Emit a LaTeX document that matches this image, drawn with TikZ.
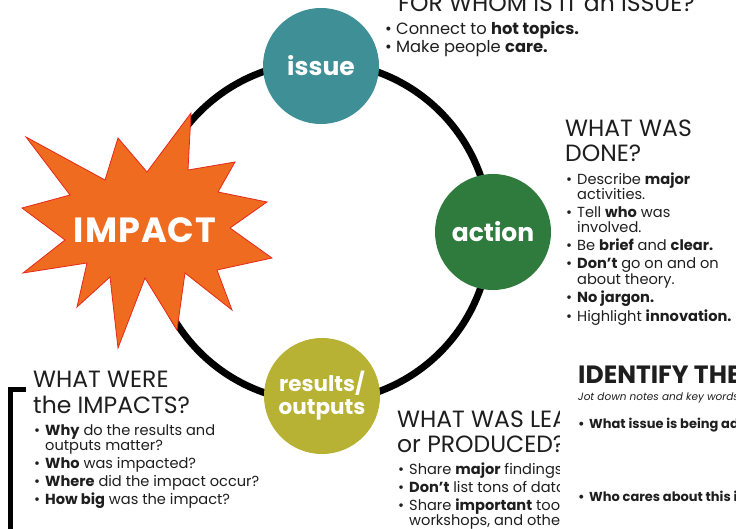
\documentclass[tikz,border=0pt]{standalone}
\usepackage{fontspec}
\setmainfont{Poppins}
\definecolor{issuecol}{HTML}{3F8F96}
\definecolor{actioncol}{HTML}{2F7B3D}
\definecolor{resultcol}{HTML}{B7B233}
\definecolor{burstfill}{HTML}{EF6B1F}
\definecolor{burstline}{HTML}{E5291B}
\definecolor{txt}{HTML}{1E1E1E}
\tikzset{
  stage/.style={circle, minimum size=116pt, inner sep=0pt, text=white,
    font=\fontsize{25}{22}\selectfont\bfseries, align=center},
  heading/.style={anchor=base west, inner sep=0pt, text=txt,
    font=\fontsize{23.5}{26}\selectfont},
  body/.style={anchor=base west, inner sep=0pt, text=txt,
    font=\fontsize{14.6}{15}\selectfont},
  topbody/.style={body, font=\fontsize{16.3}{17}\selectfont},
  ring/.style={line width=7pt, black},
  bracket/.style={line width=5pt, black}
}
\newcommand{\bul}{\makebox[11pt][l]{\textbullet}}
\begin{document}
\begin{tikzpicture}[x=1pt,y=-1pt]
\useasboundingbox (0,0) rectangle (736,529);
% ring
\coordinate (ringc) at (320,232);
\draw[ring] (ringc) circle[radius=170];
% starburst
\filldraw[fill=burstfill, draw=burstline, line width=0.8pt]
  (26,137) -- (105,180) -- (118,138) -- (147,172) -- (191,113) -- (188,170)
  -- (235,162) -- (218,192) -- (267,202) -- (230,228) -- (272,258) -- (217,270)
  -- (232,310) -- (185,273) -- (177,330) -- (145,278) -- (118,348) -- (110,277)
  -- (77,307) -- (87,263) -- (23,273) -- (65,240) -- (22,208) -- (70,195) -- cycle;
\node[text=white, font=\fontsize{35}{35}\selectfont\bfseries] (impact) at (145,230) {I\kern1ptM\kern1ptP\kern1ptA\kern1ptC\kern1ptT};
% stage circles
\node[stage, fill=issuecol] (issue) at (321,66) {issue};
\node[stage, fill=actioncol] (action) at (493,232) {action};
\node[stage, fill=resultcol, font=\fontsize{21.5}{23}\selectfont\bfseries] (results) at (322,396) {results/\\outputs};
% top text
\node[heading] (h1) at (398,12) {FOR WHOM IS IT an ISSUE?};
\node[topbody] (t1) at (385,35) {\bul Connect to \textbf{hot topics.}};
\node[topbody] (t2) at (385,53) {\bul Make people \textbf{care.}};
% action text
\node[heading] (h2a) at (565,137) {WHAT WAS};
\node[heading] (h2b) at (565,162) {DONE?};
\node[body] (a1) at (566,185) {\bul Describe \textbf{major}};
\node[body] (a1b) at (577,200) {activities.};
\node[body] (a2) at (566,218) {\bul Tell \textbf{who} was};
\node[body] (a2b) at (577,233) {involved.};
\node[body] (a3) at (566,251) {\bul Be \textbf{brief} and \textbf{clear.}};
\node[body] (a4) at (566,269) {\bul\textbf{Don't} go on and on};
\node[body] (a4b) at (577,284) {about theory.};
\node[body] (a5) at (566,302) {\bul\textbf{No jargon.}};
\node[body] (a6) at (566,321) {\bul Highlight \textbf{innovation.}};
% impacts text
\node[heading] (h3a) at (33,387) {WHAT WERE};
\node[heading] (h3b) at (33,413) {the IMPACTS?};
\node[body] (i1) at (34,435) {\bul\textbf{Why} do the results and};
\node[body] (i1b) at (45,450) {outputs matter?};
\node[body] (i2) at (34,468) {\bul\textbf{Who} was impacted?};
\node[body] (i3) at (34,486) {\bul\textbf{Where} did the impact occur?};
\node[body] (i4) at (34,504) {\bul\textbf{How big} was the impact?};
\draw[bracket] (26,389) -- (10,389) -- (10,529);
% learned / produced text (clipped at the panel edge)
\begin{scope}
\clip (380,400) rectangle (559,529);
\node[heading] (h4a) at (397,427) {WHAT WAS LEA};
\node[heading] (h4b) at (397,452) {or PRODUCED?};
\node[body] (p1) at (398,474) {\bul Share \textbf{major} findings.};
\node[body] (p2) at (398,492) {\bul\textbf{Don't} list tons of data};
\node[body] (p3) at (398,510) {\bul Share \textbf{important} tool};
\node[body] (p3b) at (409,525) {workshops, and othe};
\end{scope}
% identify panel
\node[anchor=base west, inner sep=0pt, text=txt, font=\fontsize{25}{26}\selectfont\bfseries] (h5) at (578,383) {IDENTIFY THE};
\node[anchor=base west, inner sep=0pt, text=txt, font=\fontsize{10.5}{11}\selectfont\itshape] (j1) at (578,400) {Jot down notes and key words};
\node[body, font=\fontsize{13}{14}\selectfont\bfseries] (q1) at (578,428) {\bul What issue is being addressed?};
\node[body, font=\fontsize{13}{14}\selectfont\bfseries] (q2) at (578,501) {\bul Who cares about this issue?};
\end{tikzpicture}
\end{document}
